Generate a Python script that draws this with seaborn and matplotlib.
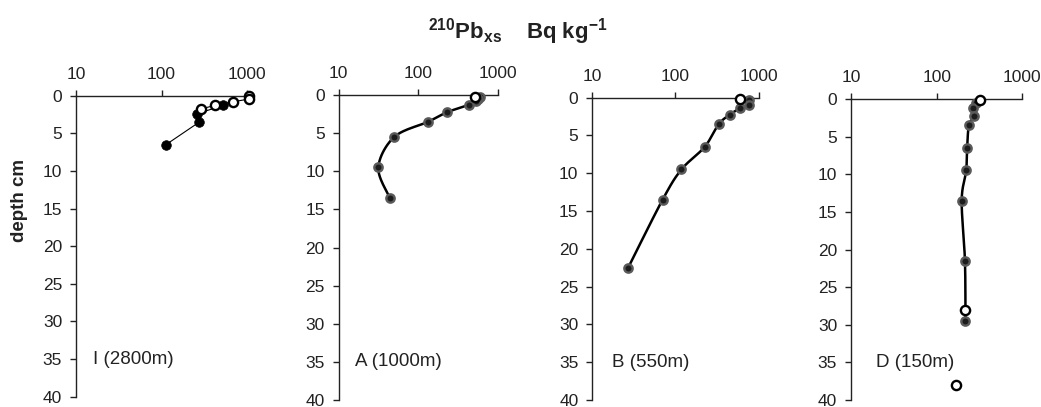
import numpy as np
import pandas as pd
import matplotlib
matplotlib.use("Agg")
import matplotlib.pyplot as plt
from matplotlib.ticker import NullLocator
import seaborn as sns

# ---------------- data ----------------
xticks = [10, 100, 1000]
xtick_labels = ["10", "100", "1000"]
yticks = [0, 5, 10, 15, 20, 25, 30, 35, 40]

I_filled_val = [520, 262, 277, 113]
I_filled_depth = [1.3, 2.4, 3.5, 6.5]
I_open_val = [1050, 1050, 690, 420, 290]
I_open_depth = [0.1, 0.45, 0.8, 1.3, 1.75]

A_val = [600, 570, 540, 430, 232, 134, 50, 31.5, 44]
A_depth = [0.2, 0.5, 0.8, 1.3, 2.25, 3.5, 5.5, 9.5, 13.5]
A_open_val = [518]
A_open_depth = [0.3]

B_val = [770, 770, 600, 450, 332, 225, 118, 70, 27]
B_depth = [0.3, 0.95, 1.4, 2.25, 3.5, 6.5, 9.5, 13.5, 22.5]
B_open_val = [600]
B_open_depth = [0.15]

D_val = [290, 263, 272, 238, 227, 221, 196, 214, 217]
D_depth = [0.5, 1.25, 2.3, 3.5, 6.5, 9.5, 13.5, 21.5, 29.5]
D_open_val = [320, 214, 168]
D_open_depth = [0.15, 28.0, 38.0]

station_labels = ["I (2800m)", "A (1000m)", "B (550m)", "D (150m)"]

# ---------------- style ----------------
sns.set_theme(style="ticks")
plt.rcParams["font.family"] = ["Liberation Sans", "DejaVu Sans"]
plt.rcParams["mathtext.fontset"] = "custom"
plt.rcParams["mathtext.rm"] = "Liberation Sans"
plt.rcParams["mathtext.bf"] = "Liberation Sans:bold"
plt.rcParams["mathtext.it"] = "Liberation Sans:italic"

W, H = 1041, 407
fig = plt.figure(figsize=(W / 100, H / 100), dpi=100)

# pixel boxes for each panel: left, right (x=10..1000), top (depth 0), bottom (depth 40)
boxes = [
    (76.0, 247.0, 95.7, 396.7),
    (338.7, 497.7, 95.0, 400.0),
    (592.3, 758.6, 97.7, 400.0),
    (851.0, 1022.3, 99.0, 400.0),
]
label_x = [0.098, 0.105, 0.12, 0.145]


def smooth(vals, depths, n=24):
    lx = np.log10(np.asarray(vals, float))
    d = np.asarray(depths, float)
    P = np.column_stack([lx, d])
    P = np.vstack([P[0], P, P[-1]])
    t = np.linspace(0, 1, n, endpoint=False)[:, None]
    out = []
    for i in range(1, len(P) - 2):
        p0, p1, p2, p3 = P[i - 1], P[i], P[i + 1], P[i + 2]
        seg = 0.5 * ((2 * p1) + (-p0 + p2) * t
                     + (2 * p0 - 5 * p1 + 4 * p2 - p3) * t ** 2
                     + (-p0 + 3 * p1 - 3 * p2 + p3) * t ** 3)
        out.append(seg)
    out.append(P[-2][None])
    out = np.vstack(out)
    return 10 ** out[:, 0], out[:, 1]


axes = []
for (l, r, t, b) in boxes:
    ax = fig.add_axes([l / W, 1 - b / H, (r - l) / W, (b - t) / H])
    axes.append(ax)

FILLED_GREY = dict(s=36, color="#1c1c1c", edgecolor="#5a5a5a", linewidth=1.7, zorder=4)
OPEN = dict(s=44, color="white", edgecolor="black", linewidth=1.7, zorder=6)

# Panel I: thin straight lines, black filled + open markers
ax = axes[0]
sns.lineplot(x=I_filled_val, y=I_filled_depth, sort=False, estimator=None,
             color="black", linewidth=0.8, ax=ax, zorder=3)
sns.lineplot(x=I_open_val, y=I_open_depth, sort=False, estimator=None,
             color="black", linewidth=0.8, ax=ax, zorder=3)
sns.scatterplot(x=I_filled_val, y=I_filled_depth, s=48, color="black",
                edgecolor="black", linewidth=0.5, ax=ax, zorder=4, clip_on=False)
sns.scatterplot(x=I_open_val, y=I_open_depth, ax=ax, clip_on=False, **OPEN)

# Panels A, B, D: smoothed thick lines
series = [(A_val, A_depth, A_open_val, A_open_depth),
          (B_val, B_depth, B_open_val, B_open_depth),
          (D_val, D_depth, D_open_val, D_open_depth)]
for ax, (v, d, ov, od) in zip(axes[1:], series):
    sx, sy = smooth(v, d)
    sns.lineplot(x=sx, y=sy, sort=False, estimator=None, color="black",
                 linewidth=1.8, ax=ax, zorder=3)
    sns.scatterplot(x=v, y=d, ax=ax, clip_on=False, **FILLED_GREY)
    sns.scatterplot(x=ov, y=od, ax=ax, clip_on=False, **OPEN)

for ax, lab, lx in zip(axes, station_labels, label_x):
    ax.set_xscale("log")
    ax.set_xlim(10, 1000)
    ax.set_ylim(40, 0)
    ax.xaxis.tick_top()
    ax.set_xticks(xticks, xtick_labels)
    ax.xaxis.set_minor_locator(NullLocator())
    ax.set_yticks(yticks, [str(y) for y in yticks])
    ax.spines["bottom"].set_visible(False)
    ax.spines["right"].set_visible(False)
    ax.spines["top"].set_visible(True)
    for s in ("top", "left"):
        ax.spines[s].set_color("#222222")
        ax.spines[s].set_linewidth(1.0)
    ax.tick_params(axis="x", which="major", top=True, bottom=False, direction="out",
                   length=4, width=1.0, pad=6, labelsize=12.5, colors="#222222")
    ax.tick_params(axis="y", which="major", left=True, direction="out",
                   length=4, width=1.0, pad=6, labelsize=12.5, colors="#222222")
    ax.set_xlabel("")
    ax.set_ylabel("")
    ax.patch.set_alpha(0)
    ax.text(lx, 35, lab, transform=ax.get_yaxis_transform(), fontsize=13.5,
            ha="left", va="center", color="#222222")

fig.text(20 / W, 1 - 200 / H, "depth cm", rotation=90, fontsize=13.5,
         fontweight="bold", ha="center", va="center", color="#222222")
fig.text(518 / W, 1 - 32 / H,
         r"$^{\mathbf{210}}\mathbf{Pb}_{\mathbf{xs}}$" + "    Bq kg" + r"$^{\mathbf{-1}}$",
         fontsize=16, fontweight="bold", ha="center", va="center", color="#222222")

fig.savefig("out.png", dpi=100)
